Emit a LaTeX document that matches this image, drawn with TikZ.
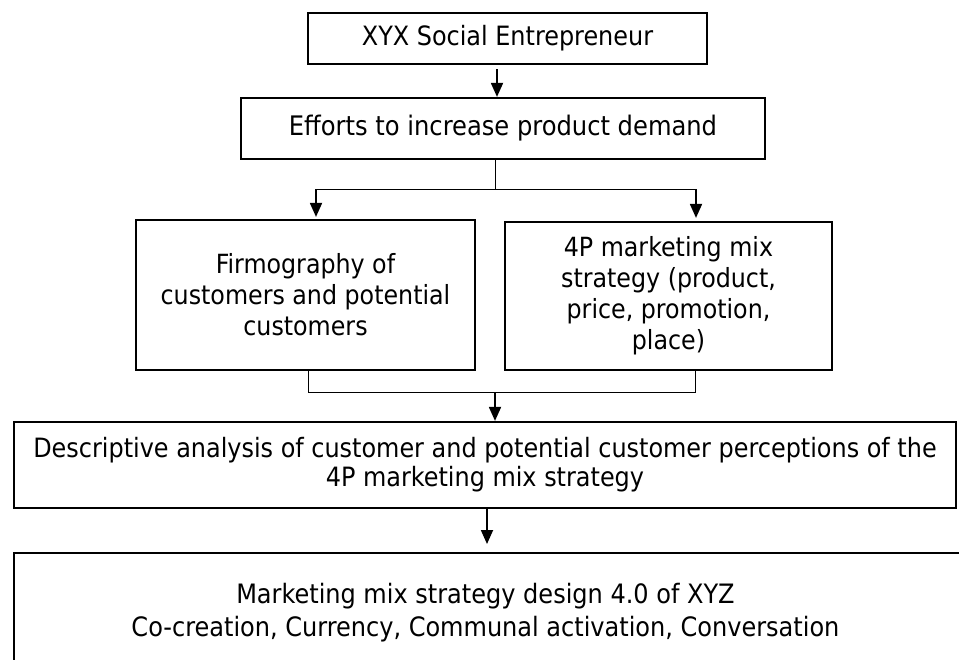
\documentclass[tikz,border=0pt]{standalone}
\usepackage{fontspec}
\setmainfont{DejaVu Sans Condensed}
\usetikzlibrary{arrows.meta}
\tikzset{
  box/.style={draw, line width=2.2pt, inner sep=0pt, align=center, font=\fontsize{26.4}{31}\selectfont},
  thinline/.style={line width=1pt},
  arr/.style={line width=1.8pt, -{Triangle[length=14pt,width=12pt]}},
}
\begin{document}
\begin{tikzpicture}[x=1pt,y=-1pt]
\clip (0,0) rectangle (959,659);
\fill[white] (0,0) rectangle (959,659);
\node[box, minimum width=399pt, minimum height=51pt, font=\fontsize{26.6}{31}\selectfont] (b1) at (507.5,38.5) {XYX Social Entrepreneur};
\node[box, minimum width=524pt, minimum height=61pt, font=\fontsize{26.9}{31}\selectfont] (b2) at (503,128.5) {Efforts to increase product demand};
\node[box, minimum width=339pt, minimum height=150pt] (b3) at (305.5,295) {Firmography of\\customers and potential\\customers};
\node[box, minimum width=327pt, minimum height=148pt] (b4) at (668.5,296) {4P marketing mix\\strategy (product,\\price, promotion,\\place)};
\node[box, minimum width=942pt, minimum height=86pt, font=\fontsize{26.6}{29}\selectfont] (b5) at (485,465) {Descriptive analysis of customer and potential customer perceptions of the\\4P marketing mix strategy};
\node[inner sep=0pt, align=center, font=\fontsize{26.7}{33}\selectfont] (b6) at (485.5,612.5) {Marketing mix strategy design 4.0 of XYZ\\Co-creation, Currency, Communal activation, Conversation};
\draw[line width=2.2pt] (14,700) |- (1000,553) coordinate (b6tr);
\coordinate (b6top) at (487,553);
% connectors
\coordinate (xa) at (497,0);
\draw[arr, shorten <=4pt] (b1.south -| xa) -- (b2.north -| xa);
\coordinate (split) at (495,189);
\coordinate (xl) at (316,189);
\coordinate (xr) at (696,189);
\draw[thinline] (b2.south -| split) -- (split);
\draw[thinline] (xl) -- (xr);
\draw[arr, shorten >=2pt] (xl) -- (b3.north -| xl);
\draw[arr, shorten >=3pt] (xr) -- (b4.north -| xr);
\coordinate (jl) at (308,392);
\coordinate (jr) at (695,392);
\coordinate (jm) at (495,392);
\draw[thinline] (b3.south -| jl) -- (jl) -- (jr) -- (b4.south -| jr);
\draw[arr] (jm) -- (b5.north -| jm);
\draw[arr, shorten >=9pt] (b5.south -| b6top) -- (b6top);
\end{tikzpicture}
\end{document}
